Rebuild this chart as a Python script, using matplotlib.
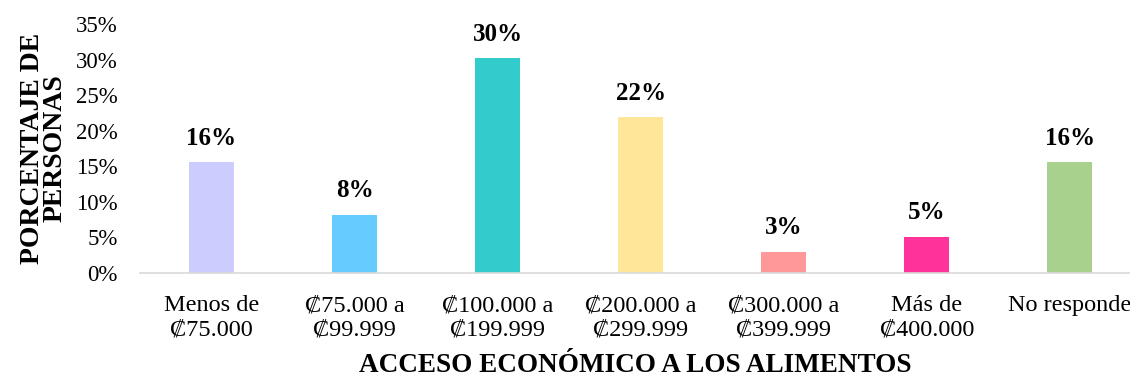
import numpy as np
import matplotlib.pyplot as plt
from matplotlib.ticker import PercentFormatter

categorias = ['Menos de\n₡75.000', '₡75.000 a\n₡99.999', '₡100.000 a\n₡199.999',
              '₡200.000 a\n₡299.999', '₡300.000 a\n₡399.999', 'Más de\n₡400.000',
              'No responde']
valores = [15.6, 8.2, 30.2, 21.9, 3.0, 5.1, 15.6]
etiquetas = ['16%', '8%', '30%', '22%', '3%', '5%', '16%']
colores = ['#CCCCFF', '#66CCFF', '#33CCCC', '#FFE699', '#FF9999', '#FF3399', '#A9D18E']

fuente = ['Liberation Serif', 'DejaVu Serif']
plt.rcParams['font.family'] = fuente

fig = plt.figure(figsize=(11.3, 3.78), dpi=100)
ax = fig.add_axes([140 / 1130, 1 - 273 / 378, 1 - 140 / 1130, (273 - 24) / 378])

x = np.arange(len(categorias))
ax.bar(x, valores, width=0.315, color=colores)

for xi, v, t in zip(x, valores, etiquetas):
    ax.annotate(t, (xi, v), xytext=(0, 9), textcoords='offset points',
                ha='center', va='bottom', fontsize=18, fontweight='bold')

ax.set_xlim(-0.5, 6.42)
ax.set_ylim(0, 35)
ax.set_yticks(np.arange(0, 36, 5))
ax.yaxis.set_major_formatter(PercentFormatter(decimals=0))
ax.set_xticks(x)
ax.set_xticklabels(categorias, linespacing=1.2)
ax.tick_params(axis='both', length=0)
ax.tick_params(axis='x', pad=16, labelsize=17.5)
ax.tick_params(axis='y', pad=16, labelsize=16.5)

for s in ['top', 'right', 'left']:
    ax.spines[s].set_visible(False)
ax.spines['bottom'].set_color('#D9D9D9')
ax.spines['bottom'].set_linewidth(1.2)

ax.set_xlabel('ACCESO ECONÓMICO A LOS ALIMENTOS', fontsize=19.5, fontweight='bold', labelpad=9)
ax.set_ylabel('PORCENTAJE DE\nPERSONAS', fontsize=20, fontweight='bold',
              linespacing=0.9, labelpad=6)

fig.savefig('out.png', dpi=100)
